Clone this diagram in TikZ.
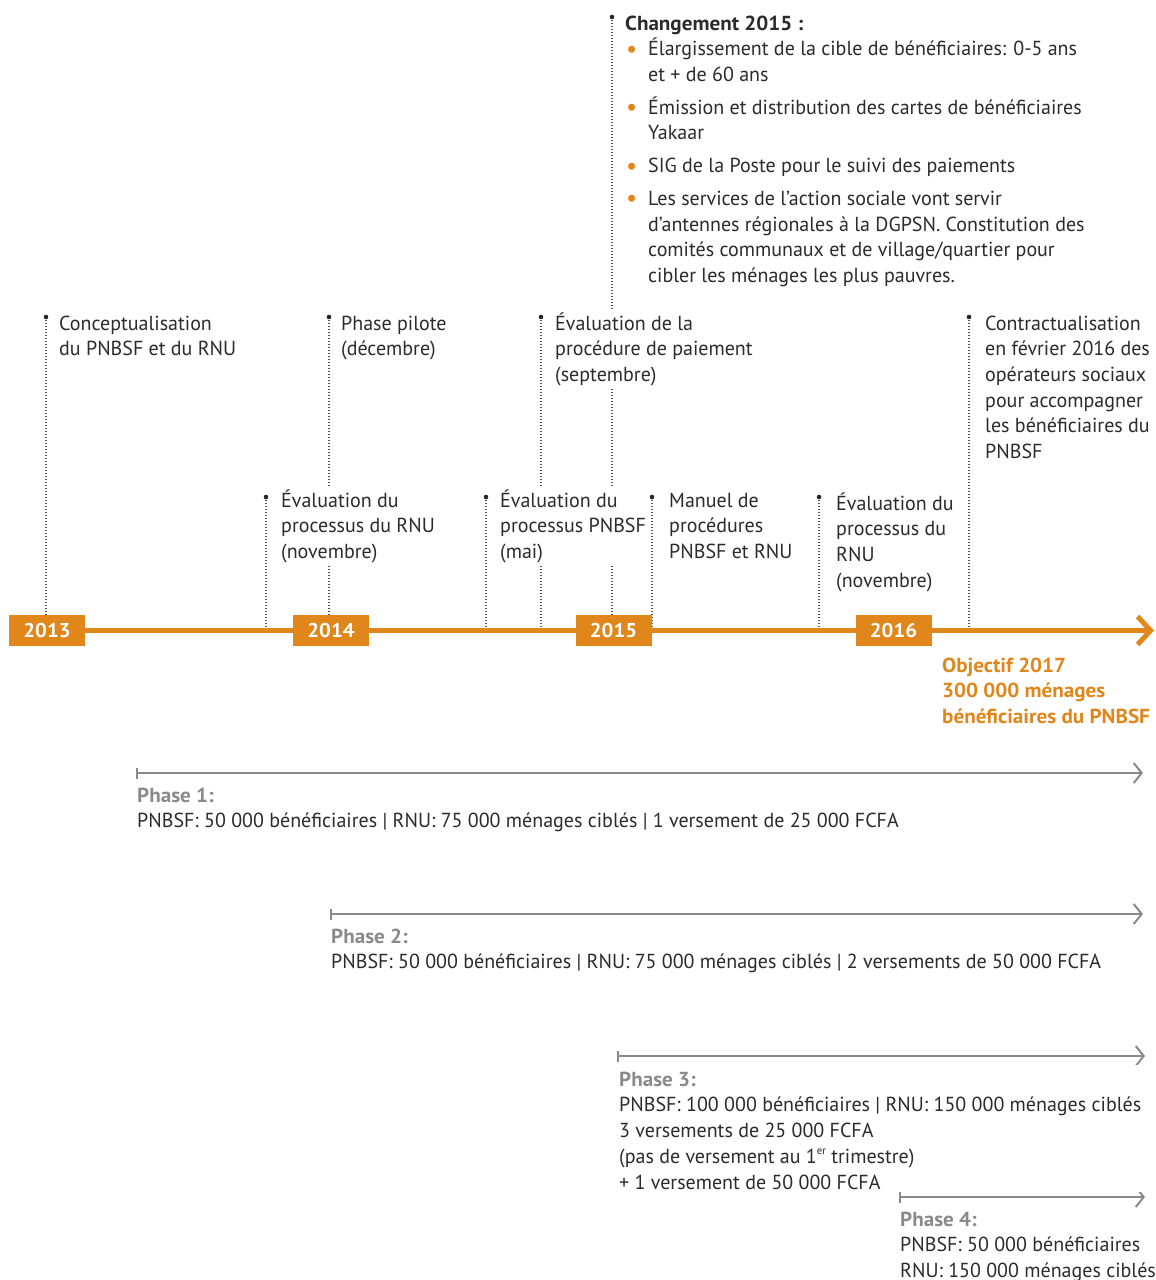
\documentclass[tikz,border=0pt]{standalone}
\usepackage{fontspec}
\setmainfont{PT Sans}[FakeStretch=0.985, BoldFeatures={FakeStretch=1.04}]
\usetikzlibrary{arrows.meta}
\definecolor{orng}{HTML}{E0861A}
\definecolor{txt}{HTML}{2B2B2B}
\definecolor{gry}{HTML}{8A8A8A}
\definecolor{dotc}{HTML}{555555}
\newcommand{\chgbul}{\makebox[23pt][l]{\hspace{1pt}\raisebox{-1.5pt}{\fontsize{25}{25}\selectfont\textcolor{orng}{•}}}}
\newcommand{\chgind}{\hspace*{23pt}}
\begin{document}
\begin{tikzpicture}[x=1pt,y=-1pt,
  body/.style={font=\fontsize{20.3}{25.7}\selectfont, text=txt, align=left},
  lbl/.style={body, anchor=north west, inner sep=3pt, fill=white},
  pin/.style={circle, fill=black!85, inner sep=0pt, minimum size=4.6pt},
  dline/.style={draw=dotc, line width=1.1pt, dash pattern=on 0.9pt off 2.1pt},
  yearbox/.style={fill=orng, text=white, font=\fontsize{20}{20}\selectfont\bfseries, minimum width=76pt, minimum height=31pt, inner sep=0pt},
  tbar/.style={draw=orng, line width=5.5pt, -{Straight Barb[length=13pt,width=28pt,line width=5pt]}},
  parrow/.style={draw=gry, line width=2.2pt, {Bar[width=11pt,line width=2pt]}-{Straight Barb[length=8pt,width=20pt,line width=2pt]}}
]
\useasboundingbox (0,0) rectangle (1156,1280);

% pins
\coordinate (p13) at (46,317);
\coordinate (ppil) at (329,317);
\coordinate (psep) at (541,317);
\coordinate (pcon) at (969,317);
\coordinate (pnov14) at (266,497);
\coordinate (pmai) at (486,497);
\coordinate (pman) at (652,497);
\coordinate (pnov16) at (819,497);
\coordinate (pchg) at (612,17);

\coordinate (barL) at (10,630.5);
\coordinate (barR) at (1154,630.5);

% dotted connectors
\foreach \p in {p13,ppil,psep,pcon,pnov14,pmai,pman,pnov16,pchg}
  \draw[dline] (\p) -- (\p |- barL);

% timeline bar
\draw[tbar] (barL) -- (barR);

% year boxes
\node[yearbox] (y13) at (47,630.5) {2013};
\node[yearbox] (y14) at (331,630.5) {2014};
\node[yearbox] (y15) at (613.5,630.5) {2015};
\node[yearbox] (y16) at (893.5,630.5) {2016};

% labels
\node[lbl] (c1) at (56,309) {\strut Conceptualisation\\du PNBSF et du RNU};
\node[lbl] (c2) at (338,309) {\strut Phase pilote\\(décembre)};
\node[lbl] (c3) at (552,309) {\strut Évaluation de la\\procédure de paiement\\(septembre)};
\node[lbl] (c4) at (982,309) {\strut Contractualisation\\en février 2016 des\\opérateurs sociaux\\pour accompagner\\les bénéficiaires du\\PNBSF};
\node[lbl] (c5) at (278,486) {\strut Évaluation du\\processus du RNU\\(novembre)};
\node[lbl] (c6) at (497,486) {\strut Évaluation du\\processus PNBSF\\(mai)};
\node[lbl] (c7) at (666,486) {\strut Manuel de\\procédures\\PNBSF et RNU};
\node[lbl] (c8) at (833,489) {\strut Évaluation du\\processus du\\RNU\\(novembre)};

\node[lbl] (chg) at (622,9) {\strut\textbf{Changement 2015 :}\\
\chgbul Élargissement de la cible de bénéficiaires: 0-5 ans\\
\chgind et + de 60 ans\\[7pt]
\chgbul Émission et distribution des cartes de bénéficiaires\\
\chgind Yakaar\\[7pt]
\chgbul SIG de la Poste pour le suivi des paiements\\[7pt]
\chgbul Les services de l’action sociale vont servir\\
\chgind d’antennes régionales à la DGPSN. Constitution des\\
\chgind comités communaux et de village/quartier pour\\
\chgind cibler les ménages les plus pauvres.};

\node[lbl, text=orng, font=\fontsize{20.3}{25.7}\selectfont\bfseries] (obj) at (939,651) {\strut Objectif 2017\\300 000 ménages\\bénéficiaires du PNBSF};

% pins on top
\foreach \p in {p13,ppil,psep,pcon,pnov14,pmai,pman,pnov16,pchg}
  \node[pin] at (\p) {};

% phases
\coordinate (ph1s) at (136,773);  \coordinate (ph1e) at (1143,773);
\coordinate (ph2s) at (330,914);  \coordinate (ph2e) at (1143,914);
\coordinate (ph3s) at (617,1056); \coordinate (ph3e) at (1145,1056);
\coordinate (ph4s) at (899,1197); \coordinate (ph4e) at (1145,1197);
\draw[parrow] (ph1s) -- (ph1e);
\draw[parrow] (ph2s) -- (ph2e);
\draw[parrow] (ph3s) -- (ph3e);
\draw[parrow] (ph4s) -- (ph4e);

\node[lbl] (t1) at (134,781) {\strut\textcolor{gry}{\textbf{Phase 1:}}\\PNBSF: 50 000 bénéficiaires | RNU: 75 000 ménages ciblés | 1 versement de 25 000 FCFA};
\node[lbl] (t2) at (328,922) {\strut\textcolor{gry}{\textbf{Phase 2:}}\\PNBSF: 50 000 bénéficiaires | RNU: 75 000 ménages ciblés | 2 versements de 50 000 FCFA};
\node[lbl] (t3) at (616,1065) {\strut\textcolor{gry}{\textbf{Phase 3:}}\\PNBSF: 100 000 bénéficiaires | RNU: 150 000 ménages ciblés\\3 versements de 25 000 FCFA\\(pas de versement au 1\raisebox{0.45em}{\fontsize{11}{11}\selectfont er} trimestre)\\+ 1 versement de 50 000 FCFA};
\node[lbl, fill=none] (t4) at (897,1205) {\strut\textcolor{gry}{\textbf{Phase 4:}}\\PNBSF: 50 000 bénéficiaires\\RNU: 150 000 ménages ciblés};
\end{tikzpicture}
\end{document}
